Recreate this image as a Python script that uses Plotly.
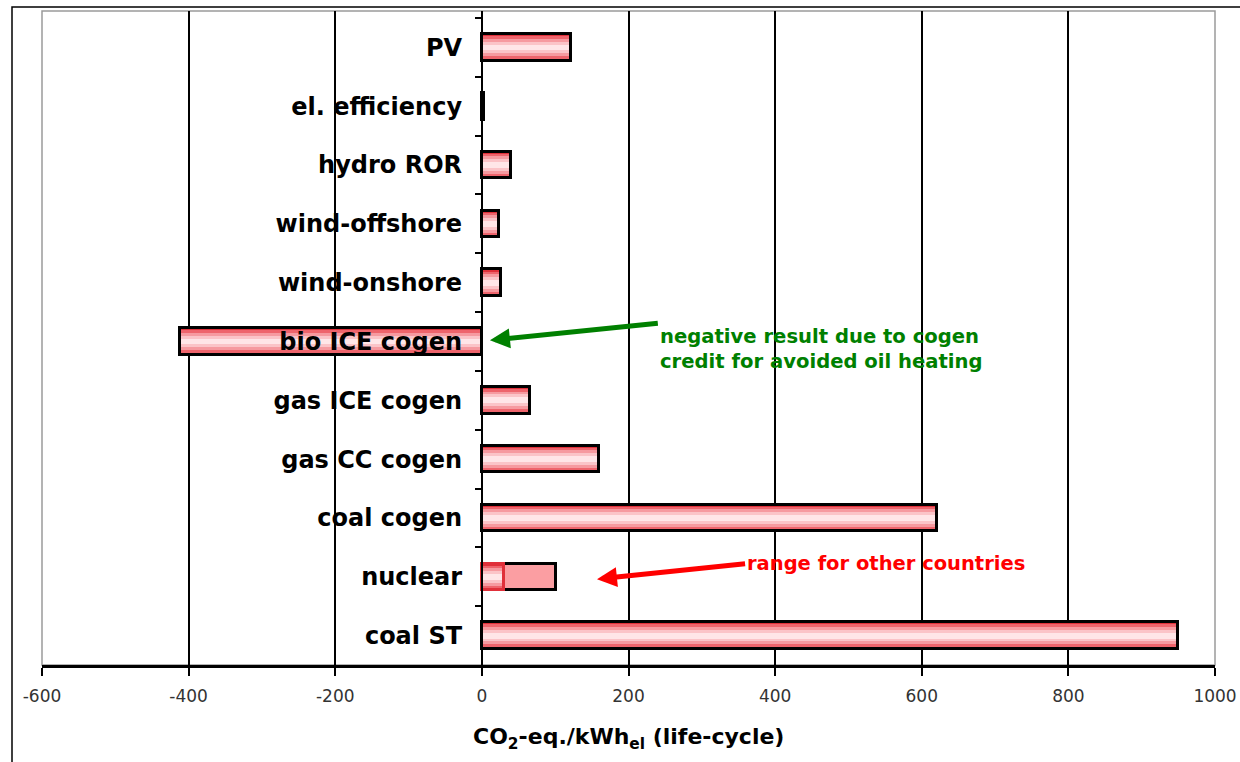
import plotly.graph_objects as go

# ---- data (top to bottom as displayed) ----
categories = ["PV", "el. efficiency", "hydro ROR", "wind-offshore", "wind-onshore",
              "bio ICE cogen", "gas ICE cogen", "gas CC cogen", "coal cogen",
              "nuclear", "coal ST"]
values = [121, 3, 40, 23, 26, -412, 65, 160, 621, 30, 950]
range_other = [None, None, None, None, None, None, None, None, None, 101, None]
x_ticks = [-600, -400, -200, 0, 200, 400, 600, 800, 1000]
x_tick_labels = ["-600", "-400", "-200", "0", "200", "400", "600", "800", "1000"]
x_grid = [-400, -200, 0, 200, 400, 600, 800]

BW = 0.45
FONT = "DejaVu Sans"

fig = go.Figure()

# range bar (nuclear, other countries)
fig.add_trace(go.Bar(y=categories, x=range_other, orientation="h", width=BW,
                     marker=dict(color="#fb9ea2", line=dict(color="black", width=3)),
                     hoverinfo="skip", showlegend=False))

# gradient-like fill built from stacked layers
layers = [(BW, "#e0303a"), (0.38, "#ee646c"), (0.30, "#f69aa0"),
          (0.20, "#fbc4c8"), (0.10, "#ffe6e8")]
for w, c in layers:
    fig.add_trace(go.Bar(y=categories, x=values, orientation="h", width=w,
                         marker=dict(color=c, line=dict(width=0)),
                         hoverinfo="skip", showlegend=False))

outline_colors = ["#e0303a" if c == "nuclear" else "black" for c in categories]
fig.add_trace(go.Bar(y=categories, x=values, orientation="h", width=BW,
                     marker=dict(color="rgba(0,0,0,0)",
                                 line=dict(color=outline_colors, width=3)),
                     hoverinfo="skip", showlegend=False))

# invisible trace on overlay axis to draw interior gridlines
fig.add_trace(go.Scatter(x=[x_grid[0]], y=[categories[0]], xaxis="x2",
                         mode="markers", marker=dict(opacity=0),
                         hoverinfo="skip", showlegend=False))

fig.update_layout(
    width=1240, height=762,
    margin=dict(l=42, r=25, t=11, b=97),
    paper_bgcolor="white", plot_bgcolor="white",
    barmode="overlay", bargap=0,
    font=dict(family=FONT, color="black"),
    xaxis=dict(range=[-600, 1000], tickvals=x_ticks, ticktext=x_tick_labels,
               showgrid=False, automargin=False,
               zeroline=True, zerolinecolor="black", zerolinewidth=2,
               showline=True, linecolor="black", linewidth=3,
               ticks="outside", ticklen=8, tickwidth=2, tickcolor="black",
               ticklabelstandoff=6,
               tickfont=dict(family=FONT, size=17, color="#333")),
    xaxis2=dict(range=[-600, 1000], overlaying="x", tickvals=x_grid,
                showgrid=True, gridcolor="black", gridwidth=2, automargin=False,
                showticklabels=False, ticks="", zeroline=False, showline=False),
    yaxis=dict(type="category", autorange="reversed", anchor="free",
               position=600 / 1600, showgrid=False, automargin=False,
               showline=True, linecolor="black", linewidth=2,
               ticks="outside", tickson="boundaries", ticklen=6, tickwidth=2,
               tickcolor="black", ticklabelstandoff=14,
               tickfont=dict(family=FONT, size=24, color="black", weight="bold")),
)

# plot-area border and outer frame
fig.add_shape(type="rect", xref="paper", yref="paper", x0=0, x1=1, y0=0, y1=1,
              line=dict(color="#9a9a9a", width=1.5), layer="below")
fig.add_shape(type="rect", xref="paper", yref="paper",
              x0=-30 / 1173, x1=1.2, y0=-0.3, y1=1 + 4 / 654,
              line=dict(color="black", width=1.5), layer="above")

# axis title
fig.add_annotation(xref="paper", yref="paper", x=0.5, y=-(738 - 665) / 654,
                   xanchor="center", yanchor="middle", showarrow=False,
                   text="CO<sub>2</sub>-eq./kWh<sub>el</sub> (life-cycle)",
                   font=dict(family=FONT, size=22, color="black", weight="bold"))

# green note with arrow (text sits at arrow tail)
fig.add_annotation(xref="x", yref="y", x=11, y=4.98, axref="x", ayref="y",
                   ax=240, ay=4.69, xanchor="left", yanchor="top", align="left",
                   text="negative result due to cogen<br>credit for avoided oil heating",
                   font=dict(family=FONT, size=19.6, color="#008000", weight="bold"),
                   showarrow=True, arrowhead=2, arrowsize=0.8, arrowwidth=5,
                   arrowcolor="#008000")

# red note with arrow
fig.add_annotation(xref="x", yref="y", x=157, y=9.04, axref="x", ayref="y",
                   ax=359, ay=8.78, xanchor="left", yanchor="middle",
                   text="range for other countries",
                   font=dict(family=FONT, size=19.5, color="#ff0000", weight="bold"),
                   showarrow=True, arrowhead=2, arrowsize=0.8, arrowwidth=5,
                   arrowcolor="#ff0000")

fig.write_html("out.html")
